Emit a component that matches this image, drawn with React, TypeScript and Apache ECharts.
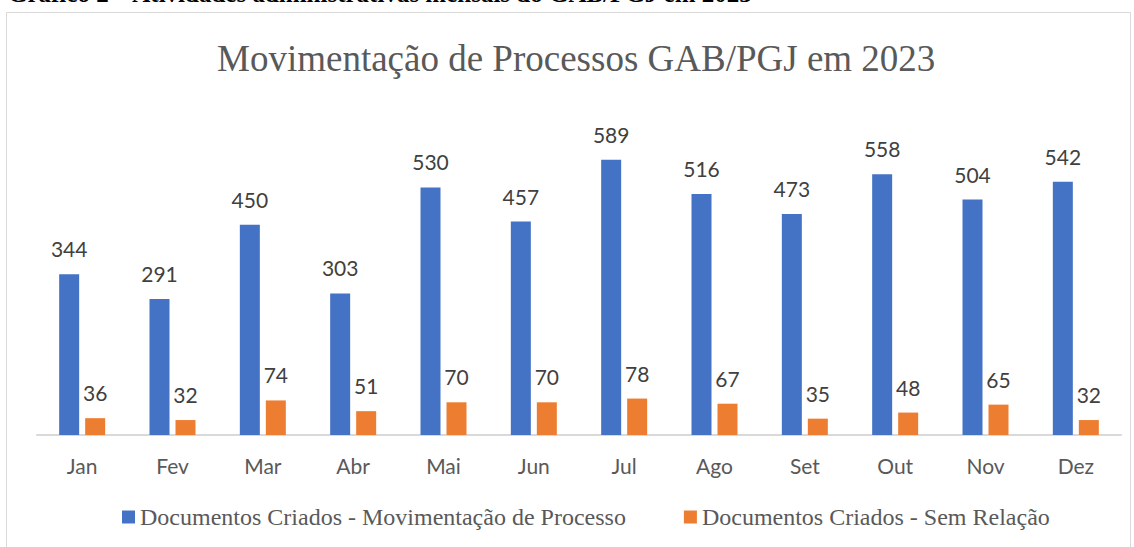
import React, { useEffect, useRef } from "react";
import * as echarts from "echarts";

const categories = ["Jan", "Fev", "Mar", "Abr", "Mai", "Jun", "Jul", "Ago", "Set", "Out", "Nov", "Dez"];
const movimentacao = [344, 291, 450, 303, 530, 457, 589, 516, 473, 558, 504, 542];
const semRelacao = [36, 32, 74, 51, 70, 70, 78, 67, 35, 48, 65, 32];
const seriesNames = ["Documentos Criados - Movimentação de Processo", "Documentos Criados - Sem Relação"];
const titleText = "Movimentação de Processos GAB/PGJ em 2023";
const captionText = "Gráfico 2 – Atividades administrativas mensais do GAB/PGJ em 2023";

export default function App() {
  const ref = useRef<HTMLDivElement>(null);
  useEffect(() => {
    document.body.style.margin = "0";
    const chart = echarts.init(ref.current!, null, { renderer: "svg" });
    const labelStyle = {
      show: true,
      position: "top" as const,
      distance: 15,
      color: "#404040",
      fontSize: 21,
      fontFamily: "Lato, Open Sans, sans-serif",
    };
    chart.setOption({
      animation: false,
      backgroundColor: "#ffffff",
      graphic: [
        {
          type: "rect",
          shape: { x: 6.5, y: 12.5, width: 1124, height: 560 },
          style: { fill: "none", stroke: "#d9d9d9", lineWidth: 1 },
          silent: true,
        },
        {
          type: "text",
          left: 8,
          top: -19,
          style: {
            text: captionText,
            font: "bold 25px 'Liberation Serif', serif",
            fill: "#000000",
          },
          silent: true,
        },
      ],
      title: {
        text: titleText,
        left: 212,
        top: 35,
        textStyle: {
          fontFamily: "Liberation Serif, serif",
          fontWeight: "normal",
          fontSize: 37,
          color: "#595959",
        },
      },
      legend: {
        bottom: 13,
        left: 117,
        icon: "rect",
        itemWidth: 13,
        itemHeight: 13,
        itemGap: 58,
        itemTextGap: 5,
        textStyle: {
          fontFamily: "Liberation Serif, serif",
          fontSize: 24,
          color: "#595959",
        },
        data: seriesNames,
      },
      grid: { left: 37, right: 13, top: 108, bottom: 112 },
      xAxis: {
        type: "category",
        data: categories,
        axisTick: { show: false },
        axisLine: { lineStyle: { color: "#d9d9d9", width: 2 } },
        axisLabel: {
          color: "#595959",
          fontSize: 21,
          margin: 20,
          fontFamily: "Lato, Open Sans, sans-serif",
        },
      },
      yAxis: {
        type: "value",
        min: 0,
        max: 700,
        show: false,
        splitLine: { show: false },
      },
      series: [
        {
          name: seriesNames[0],
          type: "bar",
          data: movimentacao,
          barWidth: 20,
          barGap: "30%",
          itemStyle: { color: "#4472C4" },
          label: labelStyle,
        },
        {
          name: seriesNames[1],
          type: "bar",
          data: semRelacao,
          barWidth: 20,
          itemStyle: { color: "#ED7D31" },
          label: labelStyle,
        },
      ],
    });
    return () => chart.dispose();
  }, []);
  return <div ref={ref} style={{ width: 1134, height: 547 }} />;
}
